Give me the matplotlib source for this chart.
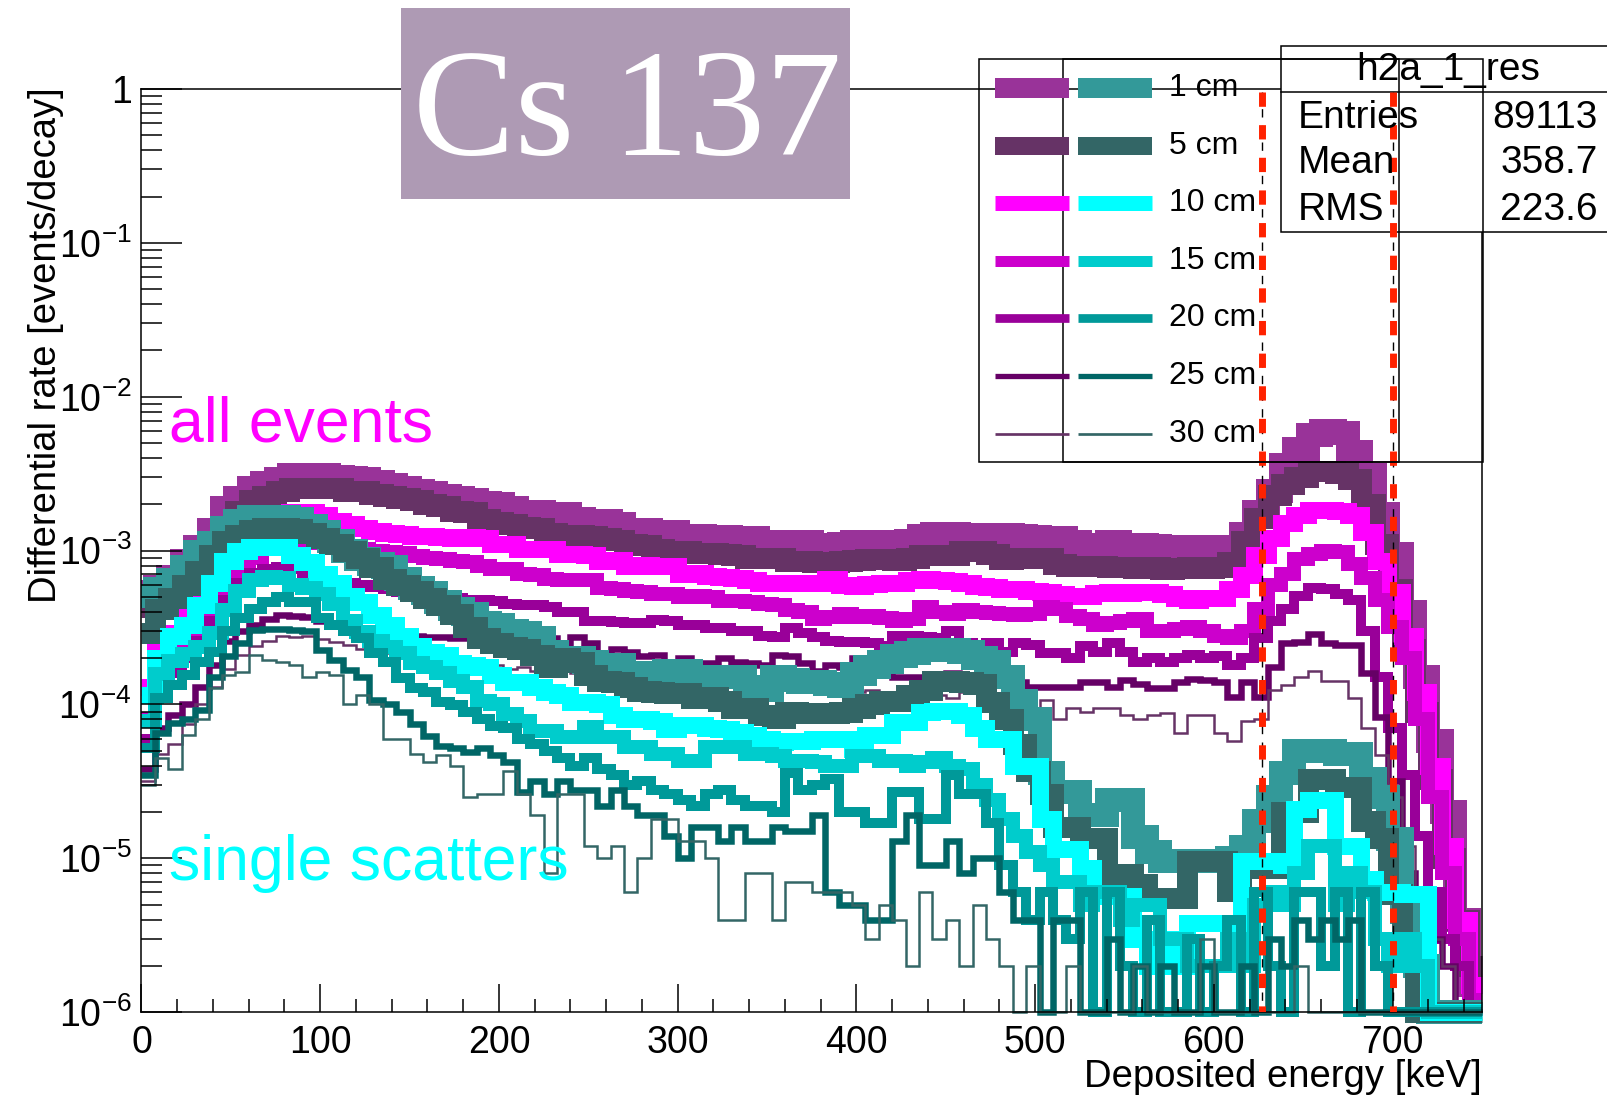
import numpy as np
import matplotlib
matplotlib.use("Agg")
import matplotlib.pyplot as plt
import matplotlib.transforms as mtransforms
from matplotlib.patches import Rectangle
from matplotlib.lines import Line2D
from matplotlib.ticker import MultipleLocator, LogLocator, NullFormatter

plt.rcParams['font.family'] = ['Liberation Sans', 'DejaVu Sans']
plt.rcParams['mathtext.fontset'] = 'custom'
plt.rcParams['mathtext.rm'] = 'Liberation Sans'
plt.rcParams['mathtext.default'] = 'regular'
plt.rcParams['lines.scale_dashes'] = False

# 100 bins of 7.5 keV between 0 and 750 keV
edges = np.linspace(0, 750, 101)

# rate per bin, in units of 1e-6 events/decay
all_1cm = [540, 580, 670, 860, 1060, 1370, 1900, 2200, 2550, 2750,
           2900, 3100, 3100, 3100, 3000, 2950, 2900, 2780, 2650, 2550,
           2450, 2370, 2280, 2200, 2140, 2050, 2000, 1900, 1780, 1780,
           1740, 1730, 1600, 1550, 1550, 1500, 1370, 1370, 1320, 1320,
           1250, 1250, 1220, 1220, 1200, 1200, 1140, 1140, 1140, 1140,
           1090, 1070, 1110, 1140, 1140, 1130, 1140, 1150, 1240, 1290,
           1290, 1260, 1270, 1260, 1260, 1250, 1220, 1200, 1200, 1140,
           1090, 1090, 1130, 1080, 1080, 1070, 1060, 1050, 1050, 1040,
           1050, 1060, 1290, 1780, 2450, 3600, 4600, 5600, 6000, 5800,
           4350, 3100, 1740, 950, 400, 150, 58, 20, 4, 1.5]
all_5cm = [430, 470, 600, 780, 1000, 1160, 1400, 1820, 2120, 2280,
           2450, 2570, 2570, 2570, 2550, 2450, 2450, 2350, 2280, 2200,
           2120, 2020, 1950, 1800, 1770, 1600, 1540, 1500, 1420, 1400,
           1300, 1270, 1260, 1250, 1200, 1180, 1100, 1090, 1020, 1000,
           990, 970, 960, 950, 930, 900, 900, 890, 860, 850,
           840, 840, 850, 870, 880, 880, 870, 900, 930, 930,
           940, 990, 1000, 950, 880, 900, 900, 890, 820, 800,
           790, 790, 780, 780, 770, 780, 760, 770, 780, 770,
           780, 840, 1160, 1630, 2300, 2700, 3000, 3300, 3300, 3200,
           2900, 2000, 1100, 560, 230, 90, 33, 10, 4, 2]
all_10cm = [130, 240, 290, 370, 480, 620, 800, 1050, 1400, 1700,
            1750, 1770, 1770, 1700, 1560, 1480, 1400, 1350, 1300, 1280,
            1250, 1240, 1220, 1200, 1220, 1200, 1110, 1100, 1030, 1020,
            1030, 950, 950, 940, 860, 870, 800, 810, 790, 800,
            700, 710, 680, 670, 660, 640, 620, 620, 620, 615,
            620, 650, 600, 590, 610, 620, 620, 640, 650, 640,
            630, 620, 590, 580, 560, 560, 550, 540, 520, 510,
            510, 530, 540, 530, 540, 540, 520, 490, 480, 490,
            490, 560, 690, 930, 1200, 1520, 1700, 1830, 1830, 1800,
            1700, 1320, 850, 540, 280, 120, 40, 12, 4, 1.5]
all_15cm = [80, 170, 210, 270, 340, 450, 600, 800, 900, 1050,
            1120, 1150, 1150, 1120, 1080, 1050, 1020, 1000, 980, 960,
            920, 900, 880, 850, 840, 800, 760, 760, 700, 690,
            650, 640, 640, 640, 570, 560, 550, 540, 520, 520,
            500, 505, 500, 470, 470, 460, 450, 440, 410, 400,
            360, 370, 390, 370, 375, 365, 350, 360, 430, 400,
            390, 410, 400, 395, 390, 380, 390, 430, 420, 375,
            360, 330, 340, 350, 360, 300, 300, 310, 320, 300,
            280, 270, 300, 420, 600, 700, 880, 950, 990, 980,
            820, 660, 480, 320, 200, 80, 25, 8, 3, 1.2]
all_20cm = [60, 120, 160, 200, 260, 350, 480, 620, 720, 760,
            780, 760, 720, 700, 640, 620, 600, 580, 560, 540,
            520, 510, 500, 490, 480, 480, 470, 450, 440, 440,
            430, 400, 400, 350, 350, 345, 340, 340, 355, 350,
            330, 330, 315, 315, 300, 300, 280, 275, 315, 290,
            275, 260, 255, 255, 250, 240, 280, 280, 275, 270,
            300, 250, 245, 250, 220, 250, 245, 215, 215, 200,
            240, 220, 250, 220, 190, 200, 190, 200, 210, 200,
            205, 180, 200, 270, 350, 420, 510, 570, 560, 520,
            480, 300, 150, 70, 35, 14, 6, 3, 2, 1]
all_25cm = [38, 70, 85, 100, 130, 180, 260, 300, 330, 360,
            380, 375, 370, 350, 330, 320, 310, 300, 290, 285,
            280, 275, 275, 270, 270, 265, 270, 275, 270, 270,
            270, 220, 275, 250, 205, 230, 220, 205, 210, 185,
            200, 185, 185, 200, 190, 185, 180, 210, 205, 185,
            165, 180, 175, 200, 190, 175, 150, 150, 150, 150,
            160, 150, 150, 160, 140, 140, 130, 130, 130, 130,
            140, 140, 130, 145, 135, 127, 127, 140, 147, 145,
            140, 112, 140, 112, 175, 250, 255, 285, 250, 245,
            245, 160, 83, 32, 8, 4, 3, 2, 1, 0]
all_30cm = [32, 48, 55, 75, 100, 130, 170, 210, 240, 260,
            280, 275, 280, 265, 255, 245, 230, 230, 215, 205,
            200, 190, 195, 185, 180, 175, 180, 170, 175, 165,
            160, 170, 160, 155, 150, 160, 150, 145, 150, 145,
            165, 150, 155, 165, 140, 135, 140, 125, 130, 125,
            120, 125, 115, 120, 125, 110, 120, 115, 110, 115,
            110, 120, 125, 110, 100, 110, 90, 107, 80, 95,
            90, 95, 95, 86, 81, 86, 88, 65, 86, 86,
            65, 58, 78, 80, 125, 133, 150, 164, 142, 142,
            110, 70, 47, 25, 12, 5, 3, 2, 1, 0]

single_1cm = [510, 560, 640, 780, 980, 1120, 1400, 1560, 1650, 1650,
              1650, 1600, 1450, 1320, 1160, 1000, 880, 820, 780, 650,
              570, 530, 460, 420, 390, 340, 330, 300, 290, 270,
              220, 200, 200, 190, 180, 180, 160, 145, 160, 165,
              165, 140, 150, 150, 150, 130, 125, 150, 145, 140,
              140, 135, 132, 158, 175, 190, 208, 215, 225, 225,
              225, 220, 200, 190, 150, 105, 80, 36, 27, 27,
              19, 19, 24, 24, 13.7, 11, 9.6, 9.6, 9.6, 9.6,
              9.6, 10, 11.8, 17.5, 25, 36, 50, 50, 50, 48,
              48, 33, 25, 13.4, 4.5, 2, 1, 1, 0, 0]
single_5cm = [290, 420, 490, 600, 740, 930, 1160, 1270, 1370, 1400,
              1400, 1380, 1300, 1200, 1110, 1000, 900, 780, 650, 600,
              550, 490, 440, 390, 320, 270, 250, 235, 230, 210,
              175, 200, 190, 155, 142, 140, 130, 123, 120, 118,
              118, 110, 112, 105, 95, 95, 85, 82, 90, 88,
              88, 88, 90, 95, 100, 105, 105, 115, 125, 142,
              142, 140, 135, 103, 80, 55, 37, 26, 16, 16,
              13.6, 13.6, 7.9, 7.9, 6.8, 5.5, 5.5, 5.5, 9.6, 9.6,
              9.6, 6.1, 8.7, 8.7, 8.7, 20, 20, 33, 33, 29,
              29, 17.5, 13.6, 5.9, 2.8, 1, 1, 0, 0, 0]
single_10cm = [115, 200, 280, 330, 440, 620, 860, 1000, 1050, 1050,
               1050, 930, 840, 700, 620, 510, 460, 380, 330, 280,
               240, 220, 210, 185, 180, 175, 155, 140, 140, 130,
               120, 115, 103, 103, 100, 85, 80, 80, 78, 69,
               73, 73, 70, 69, 66, 63, 60, 57, 58, 58,
               60, 60, 60, 51, 63, 63, 77, 77, 89, 91,
               91, 85, 70, 60, 60, 40, 40, 18, 11.5, 11.5,
               8.7, 5.7, 5.7, 5.7, 3, 2, 3, 2, 3.8, 3.8,
               3.8, 3.8, 9.6, 9.6, 9.6, 9, 21, 24, 24, 12,
               12, 7.3, 6, 6, 5.9, 5.9, 1, 0, 0, 0]
single_15cm = [78, 158, 192, 212, 235, 290, 410, 550, 640, 670,
               660, 600, 575, 520, 450, 350, 295, 260, 235, 215,
               185, 175, 160, 142, 130, 105, 100, 87, 78, 67,
               67, 61, 61, 71, 61, 61, 53, 53, 48, 48,
               43, 43, 53, 53, 53, 48, 48, 46, 43, 43,
               42, 40, 40, 46, 46, 43, 43, 40, 42, 45,
               40, 38, 30, 24, 18, 14, 11, 9, 7, 7,
               5, 6, 6, 4, 5, 5, 3, 3, 2, 2,
               2, 3, 2, 5, 6, 5, 8, 12, 12, 5,
               8, 6, 3, 2, 3, 2, 1, 1, 1, 0]
single_20cm = [52, 110, 133, 155, 190, 220, 300, 365, 420, 465,
               500, 465, 465, 365, 330, 300, 270, 215, 190, 148,
               127, 121, 104, 99, 90, 80, 72, 70, 60, 55,
               50, 45, 40, 45, 38, 35, 30, 32, 28, 26,
               24, 22, 26, 28, 24, 22, 22, 20, 36, 28,
               30, 33, 20, 20, 17, 17, 27, 27, 18, 18,
               35, 26, 26, 17, 9, 6, 4, 6, 4, 3,
               6, 1, 6, 2, 1, 4, 1, 1, 3, 1,
               2, 4, 1, 6, 2, 1, 6, 6, 2, 6,
               1, 6, 2, 1, 1, 1, 0, 0, 0, 0]
single_25cm = [35, 65, 76, 80, 92, 150, 205, 250, 305, 310,
               310, 305, 300, 225, 195, 168, 150, 107, 100, 90,
               75, 62, 54, 52, 49, 52, 47, 42, 27, 32,
               26, 32, 28, 28, 22, 28, 22, 19, 19, 14,
               10, 16, 16, 13, 16, 13, 13, 16, 15, 15,
               19, 6, 5, 5, 4, 4, 13, 19, 9, 9,
               13, 8, 10, 10, 6, 4, 4, 1, 4, 4,
               1, 1, 3, 1, 2, 1, 2, 1, 1, 2,
               1, 1, 2, 1, 3, 2, 4, 3, 4, 3,
               4, 1, 1, 1, 0, 0, 0, 0, 0, 0]
single_30cm = [30, 45, 38, 63, 81, 128, 155, 162, 210, 194,
               190, 180, 150, 162, 155, 100, 116, 100, 60, 60,
               48, 42, 47, 40, 25, 26, 26, 37, 26, 19,
               8, 26, 26, 12, 10, 12, 6, 10, 18, 18,
               13, 13, 10, 4, 4, 8, 8, 4, 7, 7,
               6, 6, 6, 5, 3, 5, 4, 2, 6, 3,
               4, 2, 5, 3, 2, 1, 2, 0, 1, 2,
               1, 1, 0, 1, 2, 1, 1, 0, 1, 3,
               1, 1, 1, 0, 1, 1, 2, 1, 1, 0,
               1, 0, 0, 0, 0, 0, 0, 0, 0, 0]

distances = ['1 cm', '5 cm', '10 cm', '15 cm', '20 cm', '25 cm', '30 cm']
all_events = [all_1cm, all_5cm, all_10cm, all_15cm, all_20cm, all_25cm, all_30cm]
single_scatters = [single_1cm, single_5cm, single_10cm, single_15cm,
                   single_20cm, single_25cm, single_30cm]
all_colors = ['#993399', '#663366', '#ff00ff', '#cc00cc', '#990099', '#660066', '#663366']
single_colors = ['#339999', '#336666', '#00ffff', '#00cccc', '#009999', '#006666', '#336666']
line_px = [24, 21, 17, 14, 10, 6.5, 2.5]
legend_px = [20, 18, 15, 11, 8.7, 5.3, 2.7]

# photopeak window (keV)
window_edges = [627, 700]

stats_name = 'h2a_1_res'
stats_rows = [('Entries', '89113'), ('Mean', '358.7'), ('RMS', '223.6')]

W, H = 1608, 1097
fig = plt.figure(figsize=(W / 100, H / 100), dpi=100)
ax = fig.add_axes([141.5 / W, 1 - 1012.2 / H, (1482 - 141.5) / W, (1012.2 - 89) / H])
# pixel coords measured from the top left of the canvas
px = mtransforms.Affine2D().scale(1 / W, -1 / H).translate(0, 1) + fig.transFigure


def pt(p):
    return p * 72 / 100


def to_rate(u):
    u = np.asarray(u, dtype=float)
    # empty bins are drawn on the frame bottom, as ROOT does on a log axis
    return np.where(u > 0, u, 1.0) * 1e-6


ax.set_yscale('log')
for vals, c, w in zip(all_events, all_colors, line_px):
    ax.stairs(to_rate(vals), edges, baseline=None, color=c, linewidth=pt(w),
              joinstyle='miter', capstyle='butt', zorder=2, clip_on=False)
for vals, c, w in zip(single_scatters, single_colors, line_px):
    ax.stairs(to_rate(vals), edges, baseline=None, color=c, linewidth=pt(w),
              joinstyle='miter', capstyle='butt', zorder=2, clip_on=False)

for e in window_edges:
    ax.plot([e, e], [0.95, 1e-6], color='black', lw=1.0, dashes=(6, 6), zorder=5)
    ax.plot([e, e], [0.95, 1e-6], color='#ff2200', lw=5, dashes=(10.3, 13.2),
            dash_capstyle='butt', zorder=5.1)

ax.set_xlim(0, 750)
ax.set_ylim(1e-6, 1)
ax.set_xticks(np.arange(0, 701, 100))
ax.xaxis.set_minor_locator(MultipleLocator(20))
ax.set_yticks([1e-6, 1e-5, 1e-4, 1e-3, 1e-2, 1e-1, 1])
ax.set_yticklabels(['$10^{-6}$', '$10^{-5}$', '$10^{-4}$', '$10^{-3}$',
                    '$10^{-2}$', '$10^{-1}$', '1'])
ax.yaxis.set_minor_locator(LogLocator(base=10, subs=np.arange(2, 10), numticks=50))
ax.yaxis.set_minor_formatter(NullFormatter())
ax.tick_params(which='both', direction='in', top=False, right=False, width=1.1)
ax.tick_params(axis='x', which='major', length=20, pad=9, labelsize=27)
ax.tick_params(axis='x', which='minor', length=9.5)
ax.tick_params(axis='y', which='major', length=29.5, pad=7, labelsize=27)
ax.tick_params(axis='y', which='minor', length=15)
ax.set_axisbelow(False)
for s in ax.spines.values():
    s.set_linewidth(1.1)

# title box
ax.add_patch(Rectangle((401, 8), 449, 191, transform=px, facecolor='#ae9ab4',
                       edgecolor='none', zorder=4, clip_on=False))
ax.text(627, 155, 'Cs 137', transform=px, ha='center', va='baseline', color='white',
        fontsize=110, family=['Liberation Serif', 'DejaVu Serif'], zorder=7)

# stats box
ax.add_patch(Rectangle((1281, 46), 400, 186, transform=px, facecolor='white',
                       edgecolor='black', lw=1.1, zorder=4, clip_on=False))
ax.add_line(Line2D([1281, 1700], [92, 92], transform=px, color='black', lw=1.1,
                   zorder=4.1, clip_on=False))
ax.text(1448, 70, stats_name, transform=px, ha='center', va='center', fontsize=28, zorder=7)
for (name, val), y in zip(stats_rows, [118, 163, 210]):
    ax.text(1298, y, name, transform=px, ha='left', va='center', fontsize=28, zorder=7)
    ax.text(1598, y, val, transform=px, ha='right', va='center', fontsize=28, zorder=7)

# legends: one box for all events, one shifted box for single scatters
for x0 in [979, 1063]:
    ax.add_patch(Rectangle((x0, 59), 420, 403, transform=px, facecolor='none',
                           edgecolor='black', lw=1.1, zorder=6, clip_on=False))
rows_y = [88, 146, 203, 261, 318, 376, 434]
for lab, ca, cs, w, y in zip(distances, all_colors, single_colors, legend_px, rows_y):
    ax.add_line(Line2D([995, 1069], [y, y], transform=px, color=ca, lw=pt(w),
                       solid_capstyle='butt', zorder=6, clip_on=False))
    ax.add_line(Line2D([1078, 1152], [y, y], transform=px, color=cs, lw=pt(w),
                       solid_capstyle='butt', zorder=6, clip_on=False))
    ax.text(1169, y, lab, transform=px, ha='left', va='center', fontsize=23, zorder=7)

ax.text(169, 441, 'all events', transform=px, color='#ff00ff', fontsize=45,
        va='baseline', zorder=7)
ax.text(169, 880, 'single scatters', transform=px, color='#00ffff', fontsize=45,
        va='baseline', zorder=7)

ax.text(1482, 1077, 'Deposited energy [keV]', transform=px, ha='right', va='center',
        fontsize=27.5)
ax.text(46, 87, 'Differential rate [events/decay]', transform=px, rotation=90,
        ha='center', va='top', fontsize=27.5)

fig.savefig('out.png', dpi=100)
